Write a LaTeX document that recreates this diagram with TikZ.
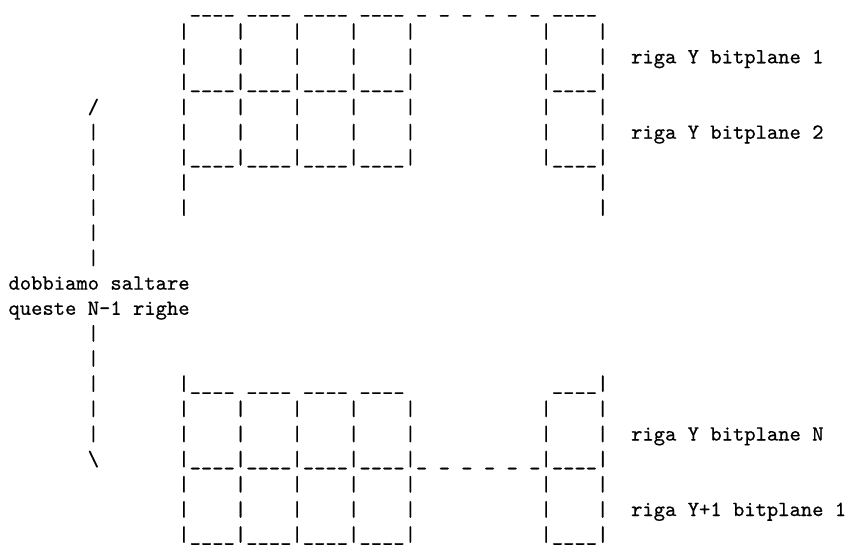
\documentclass[tikz,border=0pt]{standalone}
\usepackage{fontspec}
% Latin Modern Mono, slightly heavier strokes
\setmonofont{lmmono10-regular.otf}[FakeBold=0.6]
% Monospaced sketch of bitplane rows in memory (one unit = 1px)
\newcommand{\ufour}{\_\_\_\_}
\newcommand{\sfour}{~~~~}
% one cell = 11.32 units wide, one line = 25.15 units high
\newcommand{\colx}[1]{8.5+#1*11.32}
\newcommand{\rowy}[1]{13+#1*25.15}
\begin{document}
\begin{tikzpicture}[x=1pt,y=-1pt,
  asc/.style={anchor=base west,inner sep=0pt,outer sep=0pt,
    font=\fontsize{21.56}{25.15}\selectfont\ttfamily,text=black}]
\useasboundingbox (0,0) rectangle (846,545);

% ---- upper block: bitplane 1 and bitplane 2 of line Y
\node[asc,text height=0pt] (top0) at ({\colx{16}},{\rowy{0}}) {\ufour~\ufour~\ufour~\ufour~\_~\_~\_~\_~\_~\_~\ufour};
\node[asc] (top1) at ({\colx{15}},{\rowy{1}}) {|\sfour|\sfour|\sfour|\sfour|\sfour\sfour~~~|\sfour|};
\node[asc] (top2) at ({\colx{15}},{\rowy{2}}) {|\sfour|\sfour|\sfour|\sfour|\sfour\sfour~~~|\sfour|};
\node[asc] (top3) at ({\colx{15}},{\rowy{3}}) {|\ufour|\ufour|\ufour|\ufour|\sfour\sfour~~~|\ufour|};
\node[asc] (top4) at ({\colx{15}},{\rowy{4}}) {|\sfour|\sfour|\sfour|\sfour|\sfour\sfour~~~|\sfour|};
\node[asc] (top5) at ({\colx{15}},{\rowy{5}}) {|\sfour|\sfour|\sfour|\sfour|\sfour\sfour~~~|\sfour|};
\node[asc] (top6) at ({\colx{15}},{\rowy{6}}) {|\ufour|\ufour|\ufour|\ufour|\sfour\sfour~~~|\ufour|};
\node[asc] (top7) at ({\colx{15}},{\rowy{7}}) {|\sfour\sfour\sfour\sfour\sfour\sfour\sfour\sfour\sfour|};
\node[asc] (top8) at ({\colx{15}},{\rowy{8}}) {|\sfour\sfour\sfour\sfour\sfour\sfour\sfour\sfour\sfour|};

\node[asc] (lab1) at ({\colx{55}},{\rowy{2}}) {riga Y bitplane 1};
\node[asc] (lab2) at ({\colx{55}},{\rowy{5}}) {riga Y bitplane 2};

% ---- lower block: bitplane N of line Y and bitplane 1 of line Y+1
\node[asc] (bot15) at ({\colx{15}},{\rowy{15}}) {|\ufour~\ufour~\ufour~\ufour\sfour\sfour\sfour~\ufour|};
\node[asc] (bot16) at ({\colx{15}},{\rowy{16}}) {|\sfour|\sfour|\sfour|\sfour|\sfour\sfour~~~|\sfour|};
\node[asc] (bot17) at ({\colx{15}},{\rowy{17}}) {|\sfour|\sfour|\sfour|\sfour|\sfour\sfour~~~|\sfour|};
\node[asc] (bot18) at ({\colx{15}},{\rowy{18}}) {|\ufour|\ufour|\ufour|\ufour|\_~\_~\_~\_~\_~\_|\ufour|};
\node[asc] (bot19) at ({\colx{15}},{\rowy{19}}) {|\sfour|\sfour|\sfour|\sfour|\sfour\sfour~~~|\sfour|};
\node[asc] (bot20) at ({\colx{15}},{\rowy{20}}) {|\sfour|\sfour|\sfour|\sfour|\sfour\sfour~~~|\sfour|};
\node[asc] (bot21) at ({\colx{15}},{\rowy{21}}) {|\ufour|\ufour|\ufour|\ufour|\sfour\sfour~~~|\ufour|};

\node[asc] (lab3) at ({\colx{55}},{\rowy{17}}) {riga Y bitplane N};
\node[asc] (lab4) at ({\colx{55}},{\rowy{20}}) {riga Y+1 bitplane 1};

% ---- brace on the left marking the rows to skip
\node[asc] (br4) at ({\colx{7}},{\rowy{4}}) {/};
\foreach \k in {5,...,10} {
  \node[asc] (br\k) at ({\colx{7}},{\rowy{\k}}) {|};
}
\node[asc] (note1) at ({\colx{0}},{\rowy{11}}) {dobbiamo saltare};
\node[asc] (note2) at ({\colx{0}},{\rowy{12}}) {queste N-1 righe};
\foreach \k in {13,...,17} {
  \node[asc] (br\k) at ({\colx{7}},{\rowy{\k}}) {|};
}
\node[asc] (br18) at ({\colx{7}},{\rowy{18}}) {\textbackslash};
\end{tikzpicture}
\end{document}
